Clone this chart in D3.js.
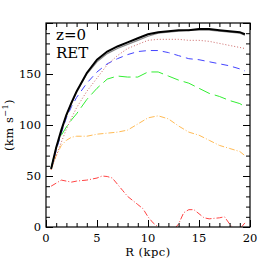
<!DOCTYPE html>
<html>
<head>
<meta charset="utf-8">
<script src="https://cdn.jsdelivr.net/npm/d3@7"></script>
<style>
  body { margin: 0; background: white; }
  svg { display: block; }
</style>
</head>
<body>
<script>
// radii (kpc) shared by most curves
const radius = [0.5, 1, 1.5, 2, 2.5, 3, 4, 5, 6, 7, 8, 9, 10, 11, 12, 13, 14, 15, 16, 17, 18, 19, 19.5];
const vTotal = [57, 78, 95, 110, 122, 133, 151, 164, 172, 177, 181, 185, 189, 191, 192, 193, 193, 194, 194, 193, 192, 191, 189];
const vTotalB = [57, 77, 94, 109, 121, 132, 150, 162, 170, 175, 179, 183, 187, 190, 191, 192, 193, 193, 193, 192, 191, 190, 188];
const vDotted = [56, 70, 83, 96, 107, 117, 133, 146, 159, 168, 175, 179, 183, 184, 184, 184, 183, 183, 182, 180, 178, 176, 175];
const vDashed = [57, 75, 92, 107, 118, 127, 141, 152, 160, 165, 169, 172, 173, 173, 171, 168, 165, 164, 162, 160, 158, 155, 153];
const vLongDash = [58, 78, 90, 98, 105, 111, 125, 136, 145, 148, 147, 147, 152, 152, 148, 144, 141, 136, 131, 128, 124, 121, 118];
const vDashDot = [56, 70, 80, 85, 88, 89, 89, 91, 92, 93, 95, 101, 107, 109, 106, 99, 93, 90, 85, 80, 77, 74, 70];
// inner red curve sampled on its own radii
const radiusRed = [0.5, 1, 1.5, 2, 2.5, 3, 4, 5, 5.5, 6, 6.5, 7, 7.5, 8, 8.5, 9, 9.5, 10, 10.5, 11, 11.5, 12, 12.5, 13, 13.5, 14, 14.5, 15, 15.5, 16, 16.5, 17, 17.5, 18, 18.5, 19, 19.5];
const vRed = [40, 43, 46, 45, 44, 45, 46, 48, 50, 49.5, 48, 42, 36, 30, 26, 22, 18, 10, 4, 0, -5, -8, -3, 3, 14, 17, 17, 13, 9, 8, 8.5, 9, 10, 3, -3, -2, 4];

const W = 273, H = 273;
const m = { left: 46, right: 23, top: 23, bottom: 46 };

const svg = d3.select('body').append('svg')
  .attr('width', W).attr('height', H)
  .style('font-family', 'DejaVu Serif, Liberation Serif, serif');

const x = d3.scaleLinear().domain([0, 20]).range([m.left, W - m.right]);
const y = d3.scaleLinear().domain([0, 200]).range([H - m.bottom, m.top]);

svg.append('clipPath').attr('id', 'clip')
  .append('rect')
  .attr('x', m.left).attr('y', m.top)
  .attr('width', W - m.left - m.right).attr('height', H - m.top - m.bottom);

const series = [
  { r: radius, v: vDashDot, color: '#ffbb55', width: 1, dash: '6,2,1,2' },
  { r: radiusRed, v: vRed, color: '#ff4444', width: 1, dash: '6,2,1,2' },
  { r: radius, v: vLongDash, color: '#33ee33', width: 1, dash: '12,5' },
  { r: radius, v: vDashed, color: '#4444ff', width: 1, dash: '7,5' },
  { r: radius, v: vDotted, color: '#cc6666', width: 1, dash: '1,2' },
  { r: radius, v: vTotalB, color: '#888888', width: 1.2, dash: null },
  { r: radius, v: vTotal, color: '#000000', width: 2, dash: null }
];

const line = d3.line().x(d => x(d[0])).y(d => y(d[1])).curve(d3.curveLinear);

svg.append('g').attr('clip-path', 'url(#clip)')
  .selectAll('path')
  .data(series)
  .enter()
  .append('path')
  .attr('d', s => line(s.r.map((r, i) => [r, s.v[i]])))
  .attr('fill', 'none')
  .attr('stroke', s => s.color)
  .attr('stroke-width', s => s.width)
  .attr('stroke-dasharray', s => s.dash);

// axes, ticks pointing inward on all four sides
const fmt = d3.format('d');
function minorTicks(axis, n) { return axis.tickValues(n).tickFormat('').tickSizeOuter(0); }

const xMajor = [0, 5, 10, 15, 20];
const xMinor = d3.range(0, 21, 1);
const yMajor = [0, 50, 100, 150, 200];
const yMinor = d3.range(0, 201, 10);

const pB = H - m.bottom, pT = m.top, pL = m.left, pR = W - m.right;

svg.append('g').attr('transform', `translate(0,${pB})`)
  .call(minorTicks(d3.axisTop(x), xMinor).tickSize(4));
svg.append('g').attr('transform', `translate(0,${pB})`)
  .call(d3.axisTop(x).tickValues(xMajor).tickSize(7).tickSizeOuter(0).tickFormat(''));
svg.append('g').attr('transform', `translate(0,${pT})`)
  .call(minorTicks(d3.axisBottom(x), xMinor).tickSize(4));
svg.append('g').attr('transform', `translate(0,${pT})`)
  .call(d3.axisBottom(x).tickValues(xMajor).tickSize(7).tickSizeOuter(0).tickFormat(''));

svg.append('g').attr('transform', `translate(${pL},0)`)
  .call(minorTicks(d3.axisRight(y), yMinor).tickSize(4));
svg.append('g').attr('transform', `translate(${pL},0)`)
  .call(d3.axisRight(y).tickValues(yMajor).tickSize(7).tickSizeOuter(0).tickFormat(''));
svg.append('g').attr('transform', `translate(${pR},0)`)
  .call(minorTicks(d3.axisLeft(y), yMinor).tickSize(4));
svg.append('g').attr('transform', `translate(${pR},0)`)
  .call(d3.axisLeft(y).tickValues(yMajor).tickSize(7).tickSizeOuter(0).tickFormat(''));

svg.selectAll('.domain').remove();
svg.selectAll('.tick line').attr('stroke', '#000').attr('stroke-width', 1);

svg.append('rect')
  .attr('x', pL).attr('y', pT)
  .attr('width', pR - pL).attr('height', pB - pT)
  .attr('fill', 'none').attr('stroke', '#000').attr('stroke-width', 1.2);

// tick labels
svg.append('g').selectAll('text')
  .data(xMajor)
  .enter().append('text')
  .attr('x', d => x(d)).attr('y', pB + 15)
  .attr('text-anchor', 'middle')
  .style('font-size', '11.5px')
  .text(fmt);

svg.append('g').selectAll('text')
  .data([0, 50, 100, 150])
  .enter().append('text')
  .attr('x', pL - 5).attr('y', d => y(d) + 4)
  .attr('text-anchor', 'end')
  .style('font-size', '11.5px')
  .text(fmt);

svg.append('text')
  .attr('x', (pL + pR) / 2).attr('y', pB + 29)
  .attr('text-anchor', 'middle')
  .style('font-size', '11.5px')
  .style('letter-spacing', '0.5px')
  .text('R (kpc)');

const yl = svg.append('text')
  .attr('transform', `translate(13,${(pT + pB) / 2}) rotate(-90)`)
  .attr('text-anchor', 'middle')
  .style('font-size', '11.5px')
  .style('letter-spacing', '0.5px');
yl.append('tspan').text('(km s');
yl.append('tspan').attr('dy', -5).style('font-size', '8px').text('−1');
yl.append('tspan').attr('dy', 5).text(')');

svg.append('text')
  .attr('x', 56).attr('y', 40)
  .style('font-size', '15px')
  .text('z=0');
svg.append('text')
  .attr('x', 56).attr('y', 58)
  .style('font-size', '15px')
  .text('RET');
</script>
</body>
</html>
